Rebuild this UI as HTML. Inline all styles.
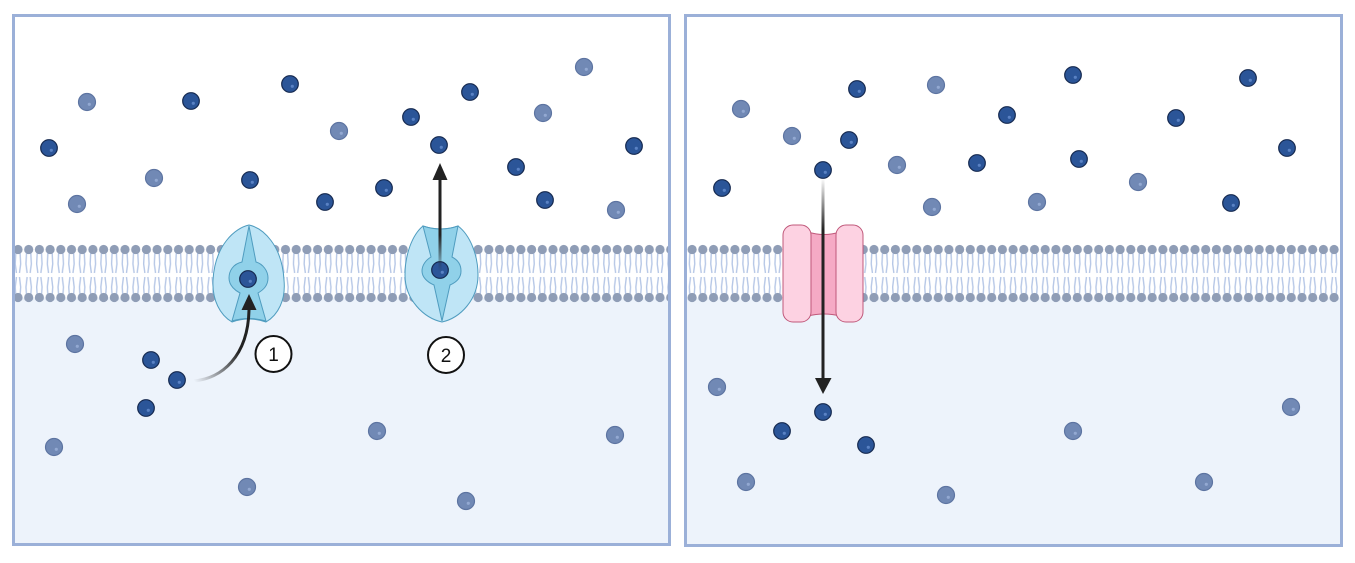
<!DOCTYPE html>
<html><head><meta charset="utf-8"><style>
html,body{margin:0;padding:0;background:#fff;}
svg{display:block;}
</style></head><body>
<svg width="1355" height="563" viewBox="0 0 1355 563" xmlns="http://www.w3.org/2000/svg">
<defs>
<pattern id="mem" x="12.65" y="240" width="10.7" height="66" patternUnits="userSpaceOnUse">
  <g stroke="#b6c7e6" stroke-width="1.4" fill="none">
    <polyline points="3.2,12 2.6,24 3.8,33"/>
    <polyline points="7.4,12 8,24 6.8,33"/>
    <polyline points="3.8,37 2.6,47 3.2,56"/>
    <polyline points="6.8,37 8,47 7.4,56"/>
  </g>
  <circle cx="5.35" cy="9.5" r="4.6" fill="#8f9db6"/>
  <circle cx="5.35" cy="57.5" r="4.6" fill="#8f9db6"/>
</pattern>
<linearGradient id="g1" gradientUnits="userSpaceOnUse" x1="195" y1="382" x2="238" y2="350">
  <stop offset="0" stop-color="#222" stop-opacity="0"/><stop offset="1" stop-color="#222" stop-opacity="1"/>
</linearGradient>
<linearGradient id="g2" gradientUnits="userSpaceOnUse" x1="0" y1="272" x2="0" y2="235">
  <stop offset="0" stop-color="#222" stop-opacity="0"/><stop offset="1" stop-color="#222" stop-opacity="1"/>
</linearGradient>
<linearGradient id="g3" gradientUnits="userSpaceOnUse" x1="0" y1="178" x2="0" y2="230">
  <stop offset="0" stop-color="#222" stop-opacity="0"/><stop offset="1" stop-color="#222" stop-opacity="1"/>
</linearGradient>
<g id="dp"><circle r="8.3" fill="#2b5598" stroke="#15294f" stroke-width="1.2"/><circle cx="2.3" cy="2.3" r="1.6" fill="#5a82c4"/></g>
<g id="lp"><circle r="8.5" fill="#7189b5" stroke="#5d74a1" stroke-width="1.2"/><circle cx="2.3" cy="2.3" r="1.6" fill="#93a9d2"/></g>
</defs>

<!-- panel backgrounds -->
<rect x="13.5" y="15.5" width="656" height="529" fill="#fff"/>
<rect x="13.5" y="298" width="656" height="246.5" fill="#edf3fb"/>
<rect x="685.5" y="15.5" width="656" height="530" fill="#fff"/>
<rect x="685.5" y="298" width="656" height="247.5" fill="#edf3fb"/>

<!-- membranes -->
<rect x="15" y="240" width="653" height="66" fill="url(#mem)"/>
<rect x="687" y="240" width="653" height="66" fill="url(#mem)"/>

<!-- borders -->
<rect x="13.5" y="15.5" width="656" height="529" fill="none" stroke="#9bb0d8" stroke-width="3"/>
<rect x="685.5" y="15.5" width="656" height="530" fill="none" stroke="#9bb0d8" stroke-width="3"/>

<!-- transporter 1 (open inward) -->
<path d="M249,225 C235,228 215,245 213,280 C212,300 220,315 232,322 Q249,316 266,322 C278,315 286,300 284,280 C282,245 263,228 249,225 Z" fill="#bfe5f6" stroke="#4f9cbf" stroke-width="1"/>
<path d="M249,226 L242,262 C233,264 229,271 229,278 C229,286 236,291 240,293 L232,321 Q249,316 266,321 L258,293 C263,290 268,286 268,278 C268,271 263,264 256,262 Z" fill="#90d1e9" stroke="#4f9cbf" stroke-width="1"/>

<!-- transporter 2 (open outward) -->
<path d="M423,226 Q441,232 458,226 C470,235 478,255 478,275 C478,300 460,318 442,322 C424,318 405,300 405,275 C405,255 412,235 423,226 Z" fill="#bfe5f6" stroke="#4f9cbf" stroke-width="1"/>
<path d="M423,226 Q441,232 458,226 L452,257 C458,260 461,265 461,271 C461,277 457,282 450,285 L442,321 L434,285 C427,282 422,277 422,271 C422,265 426,260 431,257 Z" fill="#90d1e9" stroke="#4f9cbf" stroke-width="1"/>

<!-- pink channel -->
<path d="M808,232 Q824,237 840,232 L840,316 Q824,312 808,316 Z" fill="#f5aac5" stroke="#c0587a" stroke-width="1"/>
<rect x="783" y="225" width="28" height="97" rx="10" ry="10" fill="#fdd2e2" stroke="#c0587a" stroke-width="1"/>
<rect x="836" y="225" width="27" height="97" rx="10" ry="10" fill="#fdd2e2" stroke="#c0587a" stroke-width="1"/>

<!-- light particles -->
<use href="#lp" x="87" y="102"/><use href="#lp" x="584" y="67"/><use href="#lp" x="339" y="131"/>
<use href="#lp" x="543" y="113"/><use href="#lp" x="154" y="178"/><use href="#lp" x="77" y="204"/>
<use href="#lp" x="616" y="210"/><use href="#lp" x="75" y="344"/><use href="#lp" x="54" y="447"/>
<use href="#lp" x="377" y="431"/><use href="#lp" x="247" y="487"/><use href="#lp" x="615" y="435"/>
<use href="#lp" x="466" y="501"/>
<use href="#lp" x="741" y="109"/><use href="#lp" x="936" y="85"/><use href="#lp" x="792" y="136"/>
<use href="#lp" x="897" y="165"/><use href="#lp" x="932" y="207"/><use href="#lp" x="1037" y="202"/>
<use href="#lp" x="1138" y="182"/><use href="#lp" x="717" y="387"/><use href="#lp" x="1291" y="407"/>
<use href="#lp" x="1073" y="431"/><use href="#lp" x="746" y="482"/><use href="#lp" x="946" y="495"/>
<use href="#lp" x="1204" y="482"/>

<!-- dark particles -->
<use href="#dp" x="191" y="101"/><use href="#dp" x="290" y="84"/><use href="#dp" x="470" y="92"/>
<use href="#dp" x="411" y="117"/><use href="#dp" x="49" y="148"/><use href="#dp" x="439" y="145"/>
<use href="#dp" x="634" y="146"/><use href="#dp" x="250" y="180"/><use href="#dp" x="384" y="188"/>
<use href="#dp" x="516" y="167"/><use href="#dp" x="325" y="202"/><use href="#dp" x="545" y="200"/>
<use href="#dp" x="248" y="279"/><use href="#dp" x="440" y="270"/>
<use href="#dp" x="151" y="360"/><use href="#dp" x="177" y="380"/><use href="#dp" x="146" y="408"/>
<use href="#dp" x="857" y="89"/><use href="#dp" x="1073" y="75"/><use href="#dp" x="1248" y="78"/>
<use href="#dp" x="1007" y="115"/><use href="#dp" x="849" y="140"/><use href="#dp" x="1176" y="118"/>
<use href="#dp" x="823" y="170"/><use href="#dp" x="977" y="163"/><use href="#dp" x="1079" y="159"/>
<use href="#dp" x="1287" y="148"/><use href="#dp" x="722" y="188"/><use href="#dp" x="1231" y="203"/>
<use href="#dp" x="823" y="412"/><use href="#dp" x="782" y="431"/><use href="#dp" x="866" y="445"/>

<!-- arrows -->
<path d="M193,381 C222,379 248,356 249,310" fill="none" stroke="url(#g1)" stroke-width="3"/>
<polygon points="241.5,310 256.5,310 249,294" fill="#222"/>

<line x1="440" y1="272" x2="440" y2="179" stroke="url(#g2)" stroke-width="3"/>
<polygon points="432.5,180 447.5,180 440,163" fill="#222"/>

<line x1="823" y1="178" x2="823" y2="380" stroke="url(#g3)" stroke-width="3"/>
<polygon points="815,378 831.5,378 823,394" fill="#222"/>

<!-- labels -->
<circle cx="273.5" cy="354" r="18" fill="#fff" stroke="#111" stroke-width="2"/>
<text x="273.5" y="361" text-anchor="middle" font-family="Liberation Sans, sans-serif" font-size="19" fill="#111">1</text>
<circle cx="446" cy="355" r="18" fill="#fff" stroke="#111" stroke-width="2"/>
<text x="446" y="362" text-anchor="middle" font-family="Liberation Sans, sans-serif" font-size="19" fill="#111">2</text>
</svg>
</body></html>
